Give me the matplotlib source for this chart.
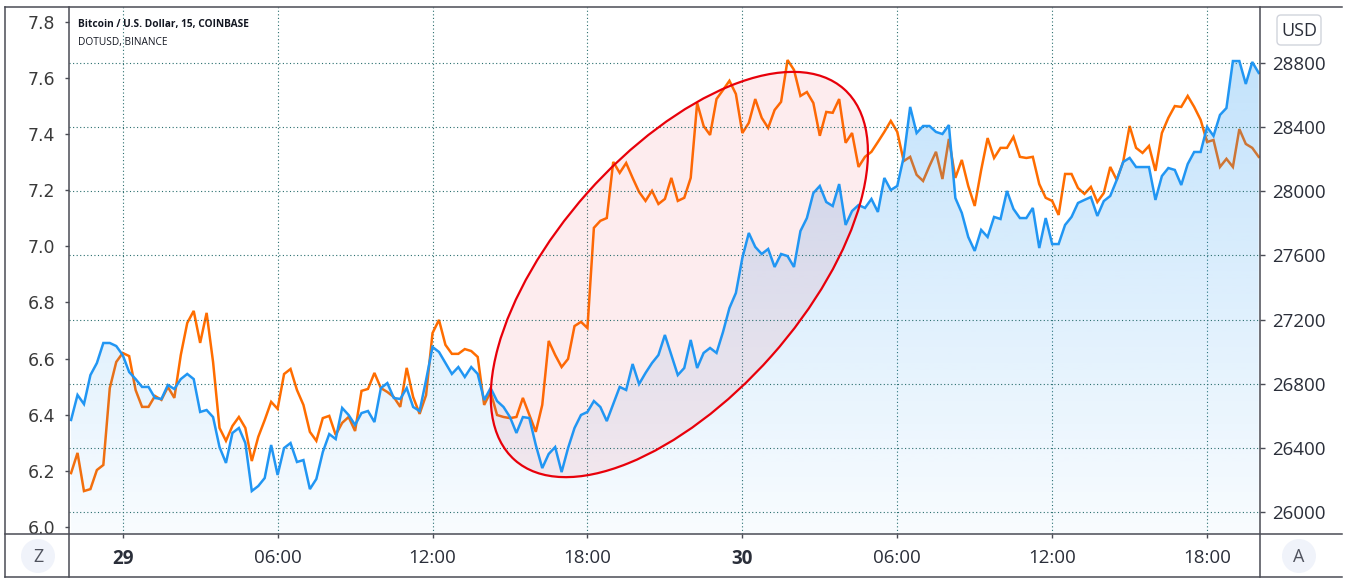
import numpy as np
import matplotlib
matplotlib.use("Agg")
import matplotlib.pyplot as plt
from matplotlib.patches import Ellipse, Polygon, Circle, FancyBboxPatch
from matplotlib.lines import Line2D
from matplotlib.transforms import ScaledTranslation

# 15 minute bars, first bar at 28th 22:00 (hours counted from the 29th 00:00)
first_hour = -2.0
bar_hours = 0.25

# Bitcoin / U.S. Dollar (COINBASE), right scale
btc = [
    26574, 26730, 26673, 26854, 26929, 27054, 27054, 27035, 26979, 26873,
    26829, 26780, 26780, 26711, 26705, 26792, 26767, 26829, 26861, 26829,
    26624, 26636, 26592, 26405, 26306, 26493, 26524, 26430, 26131, 26162,
    26212, 26418, 26231, 26399, 26430, 26312, 26324, 26143, 26206, 26374,
    26486, 26455, 26649, 26605, 26543, 26617,
    26630, 26561, 26773, 26804, 26711, 26705, 26773, 26655, 26630, 26823,
    27029, 26998, 26929, 26861, 26904, 26842, 26904, 26861, 26698, 26773,
    26692, 26655, 26592, 26493, 26592, 26586, 26418, 26274, 26362, 26405,
    26249, 26399, 26524, 26605, 26624, 26692, 26655, 26567, 26673, 26780,
    26761, 26923, 26798, 26867, 26929, 26979,
    27104, 26979, 26854, 26898, 27073, 26898, 26992, 27023, 26992, 27122,
    27272, 27366, 27584, 27740, 27653, 27609, 27640, 27528, 27609, 27596,
    27528, 27752, 27833, 27989, 28033, 27933, 27908, 28045, 27790, 27877,
    27914, 27896, 27952, 27871, 28083, 28008, 28033, 28214, 28526,
    28363, 28407, 28407, 28370, 28357, 28413, 27958, 27865, 27715, 27628,
    27759, 27715, 27840, 27827, 28002, 27890, 27833, 27833, 27896, 27646,
    27833, 27671, 27671, 27790, 27840, 27927, 27946, 27964, 27846, 27939,
    27971, 28070, 28183, 28208, 28151, 28151, 28151, 27946, 28095, 28145,
    28133, 28039, 28170, 28245, 28245, 28401, 28345, 28476, 28519, 28812,
    28812, 28669, 28806, 28738,
]

# DOTUSD (BINANCE), left scale
dot = [
    6.192, 6.264, 6.128, 6.135, 6.203, 6.221, 6.495, 6.588, 6.620, 6.609,
    6.488, 6.428, 6.428, 6.467, 6.453, 6.499, 6.460, 6.613, 6.727, 6.770,
    6.656, 6.763, 6.588, 6.353, 6.307, 6.360, 6.392, 6.353, 6.235, 6.321,
    6.381, 6.446, 6.421, 6.545, 6.563, 6.488, 6.435, 6.339, 6.307, 6.388,
    6.396, 6.328, 6.371, 6.392, 6.342, 6.485,
    6.492, 6.549, 6.495, 6.481, 6.463, 6.428, 6.567, 6.463, 6.403, 6.470,
    6.691, 6.738, 6.649, 6.617, 6.617, 6.634, 6.627, 6.606, 6.435, 6.481,
    6.399, 6.392, 6.388, 6.392, 6.460, 6.399, 6.339, 6.435, 6.663, 6.613,
    6.570, 6.599, 6.716, 6.731, 6.709,
    7.066, 7.091, 7.101, 7.301, 7.262, 7.297, 7.244, 7.194, 7.162, 7.198,
    7.151, 7.169, 7.244, 7.162, 7.173, 7.244, 7.511, 7.429, 7.397, 7.525,
    7.557, 7.590, 7.543, 7.404, 7.440, 7.525, 7.458, 7.422, 7.486, 7.515,
    7.664, 7.629, 7.536, 7.550, 7.511, 7.394, 7.479, 7.476, 7.525, 7.369,
    7.404,
    7.283, 7.319, 7.337, 7.372, 7.408, 7.447, 7.408, 7.304, 7.319, 7.255,
    7.233, 7.287, 7.337, 7.240, 7.383, 7.244, 7.308, 7.215, 7.144, 7.272,
    7.386, 7.315, 7.351, 7.351, 7.390, 7.319, 7.315, 7.319, 7.222, 7.173,
    7.162, 7.112, 7.258, 7.258, 7.208, 7.187, 7.212, 7.158, 7.190, 7.283,
    7.237, 7.301, 7.429, 7.351, 7.333, 7.358, 7.269, 7.404, 7.458, 7.500,
    7.497, 7.536, 7.497, 7.451, 7.372, 7.379, 7.283, 7.312, 7.283, 7.418,
    7.365, 7.351, 7.319,
]

time_ticks = [0, 6, 12, 18, 24, 30, 36, 42]
time_labels = ["29", "06:00", "12:00", "18:00", "30", "06:00", "12:00", "18:00"]
dot_ticks = [6.0, 6.2, 6.4, 6.6, 6.8, 7.0, 7.2, 7.4, 7.6, 7.8]
btc_ticks = [26000, 26400, 26800, 27200, 27600, 28000, 28400, 28800]

BLUE = "#2196F3"
ORANGE = "#FF6D00"
GRID = "#2a6e6e"
FRAME = "#4a4c55"
TEXT = "#2a2e39"

W, H = 1345, 585
fig = plt.figure(figsize=(W / 100, H / 100), dpi=100)
fig.patch.set_facecolor("white")

# plot pane in pixels: x 69..1260, y 7..534
ax = fig.add_axes([69 / W, 1 - 534 / H, (1260 - 69) / W, (534 - 7) / H])
ax2 = ax.twinx()

x = first_hour + bar_hours * np.arange(len(btc))
xlim = (-2.08, 44.05)
dot_lim = (5.975, 7.853)
btc_lim = (25863, 29149)

ax.plot(x, dot, color=ORANGE, lw=1.8, zorder=3, solid_joinstyle="miter")

# blue area with a vertical gradient (stronger at the top of the pane)
grad = np.linspace(0.03, 0.30, 256).reshape(-1, 1)
rgba = np.zeros((256, 1, 4))
rgba[..., :3] = matplotlib.colors.to_rgb(BLUE)
rgba[..., 3] = grad
im = ax2.imshow(rgba, extent=[xlim[0], xlim[1], btc_lim[0], btc_lim[1]],
                origin="lower", aspect="auto", zorder=1, interpolation="bilinear")
verts = np.column_stack([np.r_[x, x[-1], x[0]], np.r_[btc, btc_lim[0], btc_lim[0]]])
clip = Polygon(verts, closed=True, transform=ax2.transData, facecolor="none", edgecolor="none")
ax2.add_patch(clip)
im.set_clip_path(clip)
ax2.plot(x, btc, color=BLUE, lw=1.8, zorder=3, solid_joinstyle="miter")

# highlighted region
ell_trans = fig.dpi_scale_trans + ScaledTranslation(21.56, 27481, ax2.transData)
ax2.add_patch(Ellipse((0, 0), 4.96, 2.46, angle=48.4, transform=ell_trans,
                      facecolor="#F23645", alpha=0.09, edgecolor="none", zorder=2))
ax2.add_patch(Ellipse((0, 0), 4.96, 2.46, angle=48.4, transform=ell_trans,
                      facecolor="none", edgecolor="#E8000A", lw=1.6, zorder=4))

ax.set_xlim(*xlim)
ax.set_ylim(*dot_lim)
ax2.set_ylim(*btc_lim)

ax.set_xticks(time_ticks)
ax.set_xticklabels(time_labels, fontfamily="Open Sans", fontsize=13.5, color=TEXT)
for lab in ax.get_xticklabels():
    if ":" not in lab.get_text():
        lab.set_fontweight("bold")
ax.tick_params(axis="x", length=3, width=1, color=FRAME, pad=7.5)

ax.set_yticks(dot_ticks)
ax.set_yticklabels([f"{v:.1f}" for v in dot_ticks], fontfamily="DejaVu Sans",
                   fontsize=12.5, color="#3a3a3a")
ax.tick_params(axis="y", length=3, width=1, color=FRAME, pad=7)

ax2.set_yticks(btc_ticks)
ax2.set_yticklabels([str(v) for v in btc_ticks], fontfamily="Open Sans",
                    fontsize=13.5, color=TEXT)
ax2.tick_params(axis="y", length=3.5, width=1, color=FRAME, pad=5.5)

for a in (ax, ax2):
    for s in a.spines.values():
        s.set_visible(False)

ax2.grid(axis="y", color=GRID, lw=0.8, linestyle=(0, (1, 2.2)), zorder=2.5)
ax.grid(axis="x", color=GRID, lw=0.8, linestyle=(0, (1, 2.2)))
ax2.set_axisbelow(False)
for gl in ax2.get_ygridlines():
    gl.set_zorder(2.5)

# frame of the widget, in pixels
def px_line(x0, y0, x1, y1):
    fig.add_artist(Line2D([x0 / 100, x1 / 100], [(H - y0) / 100, (H - y1) / 100],
                          transform=fig.dpi_scale_trans, color=FRAME, lw=1.1))

px_line(5, 7, 1342, 7)
px_line(5, 577, 1342, 577)
px_line(5, 534, 1342, 534)
px_line(5, 7, 5, 577)
px_line(69, 7, 69, 577)
px_line(1260, 7, 1260, 577)

# corner buttons
for cx, letter in [(38, "Z"), (1299, "A")]:
    fig.add_artist(Circle((cx / 100, (H - 556) / 100), 0.17, transform=fig.dpi_scale_trans,
                          facecolor="#f0f3fa", edgecolor="none"))
    fig.text(cx / W, 1 - 557 / H, letter, ha="center", va="center",
             fontfamily="Open Sans", fontsize=13, color="#50535e")

fig.add_artist(FancyBboxPatch((1277 / 100, (H - 45) / 100), 0.44, 0.30,
                              boxstyle="round,pad=0,rounding_size=0.04",
                              transform=fig.dpi_scale_trans, facecolor="white",
                              edgecolor="#d1d4dc", lw=1))
fig.text(1299 / W, 1 - 30.5 / H, "USD", ha="center", va="center",
         fontfamily="Open Sans", fontsize=13, color=TEXT)

fig.text(78 / W, 1 - 27 / H, "Bitcoin / U.S. Dollar, 15, COINBASE", ha="left",
         va="baseline", fontfamily="Open Sans", fontweight="bold", fontsize=7.3, color="#131722")
fig.text(78 / W, 1 - 45 / H, "DOTUSD, BINANCE", ha="left", va="baseline",
         fontfamily="Open Sans", fontsize=7.3, color="#131722")

fig.savefig("out.png", dpi=100)
